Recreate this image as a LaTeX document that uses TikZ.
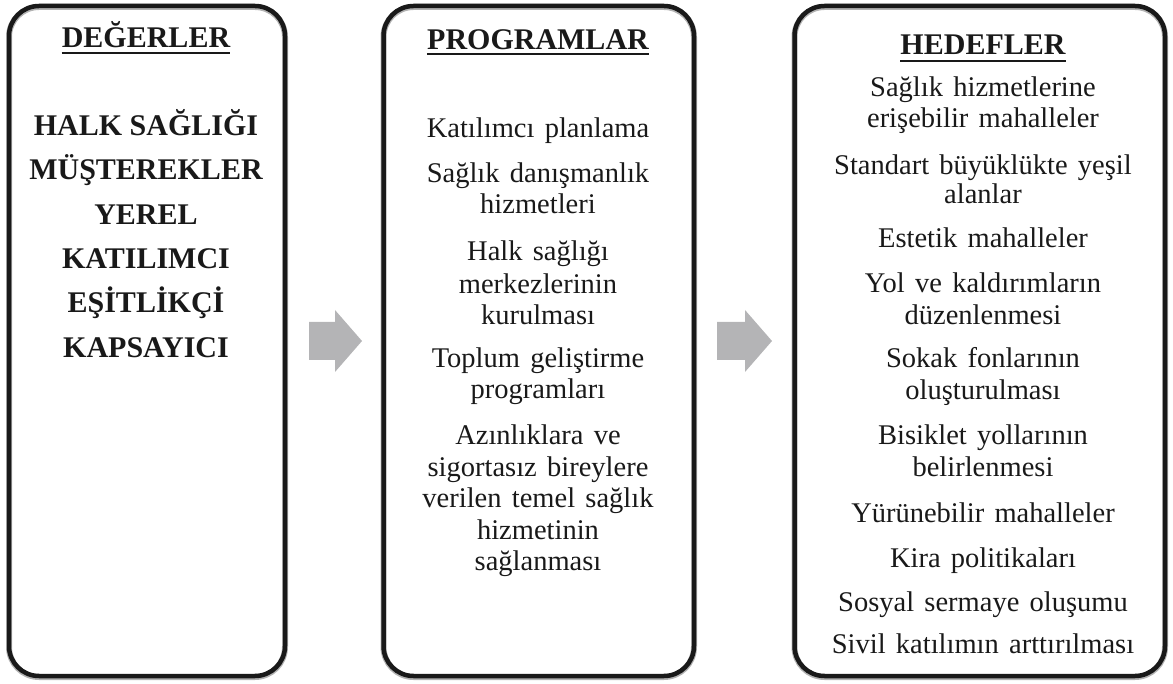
\documentclass[tikz,border=0pt]{standalone}
\usepackage{fontspec}
\setmainfont{Liberation Serif}
\definecolor{arrowgray}{RGB}{180,180,182}
\definecolor{ink}{RGB}{25,25,25}
\newcommand\itemfont{\fontsize{28.5}{31}\selectfont\spaceskip=0.36em\relax}
\newcommand\boldfont{\fontsize{30}{31}\selectfont\bfseries}
\begin{document}
\begin{tikzpicture}[x=1pt,y=-1pt,
  box/.style={draw=ink,line width=4.5pt,rounded corners=30pt,inner sep=0pt,minimum height=670pt},
  boxshadow/.style={draw=black!30,line width=6pt,rounded corners=30pt,inner sep=0pt,minimum height=670pt},
  hd/.style={font=\boldfont,inner sep=0pt,anchor=base,text=ink},
  vl/.style={font=\boldfont,inner sep=0pt,anchor=base,text=ink},
  ln/.style={font=\itemfont,inner sep=0pt,anchor=base,text=ink},
  uline/.style={line width=2pt,draw=ink},
  blockarrow/.style={fill=arrowgray}]
\useasboundingbox (0,0) rectangle (1173,684);
% box shadows
\node[boxshadow,minimum width=276pt] (s1) at (147,342) {};
\node[boxshadow,minimum width=310.5pt] (s2) at (538.75,342) {};
\node[boxshadow,minimum width=370.5pt] (s3) at (979.75,342) {};
% boxes
\node[box,minimum width=276pt] (b1) at (147,341) {};
\node[box,minimum width=310.5pt] (b2) at (538.75,341) {};
\node[box,minimum width=370.5pt] (b3) at (979.75,341) {};
% block arrows
\fill[blockarrow] (309,322) -- (335,322) -- (335,310) -- (362,341) -- (335,372) -- (335,360) -- (309,360) -- cycle;
\fill[blockarrow] (717,322) -- (745,322) -- (745,310) -- (772,341) -- (745,372) -- (745,360) -- (717,360) -- cycle;
% headers
\node[hd] (v0) at (146,48) {DEĞERLER};
\node[hd] (p0) at (538,50) {PROGRAMLAR};
\node[hd] (h0) at (983,55) {HEDEFLER};
\draw[uline] ([yshift=-5pt]v0.base west) -- ([yshift=-5pt]v0.base east);
\draw[uline] ([yshift=-4pt]p0.base west) -- ([yshift=-4pt]p0.base east);
\draw[uline] ([yshift=-6pt]h0.base west) -- ([yshift=-6pt]h0.base east);
% values
\foreach \t/\y [count=\i] in {HALK SAĞLIĞI/136,MÜŞTEREKLER/180,YEREL/225,KATILIMCI/269,EŞİTLİKÇİ/313,KAPSAYICI/358}
  \node[vl] (v\i) at (146,\y) {\t};
% programs
\foreach \t/\y [count=\i] in {Katılımcı planlama/138,Sağlık danışmanlık/183,hizmetleri/214,Halk sağlığı/261,merkezlerinin/294,kurulması/325,Toplum geliştirme/368,programları/399,Azınlıklara ve/445,sigortasız bireylere/476,verilen temel sağlık/507,hizmetinin/539,sağlanması/570}
  \node[ln] (p\i) at (538,\y) {\t};
% goals
\foreach \t/\y [count=\i] in {Sağlık hizmetlerine/97,erişebilir mahalleler/128,Standart büyüklükte yeşil/175,alanlar/204,Estetik mahalleler/248,Yol ve kaldırımların/293,düzenlenmesi/325,Sokak fonlarının/368,oluşturulması/400,Bisiklet yollarının/445,belirlenmesi/476,Yürünebilir mahalleler/522,Kira politikaları/567,Sosyal sermaye oluşumu/611,Sivil katılımın arttırılması/653}
  \node[ln] (h\i) at (983,\y) {\t};
\end{tikzpicture}
\end{document}
